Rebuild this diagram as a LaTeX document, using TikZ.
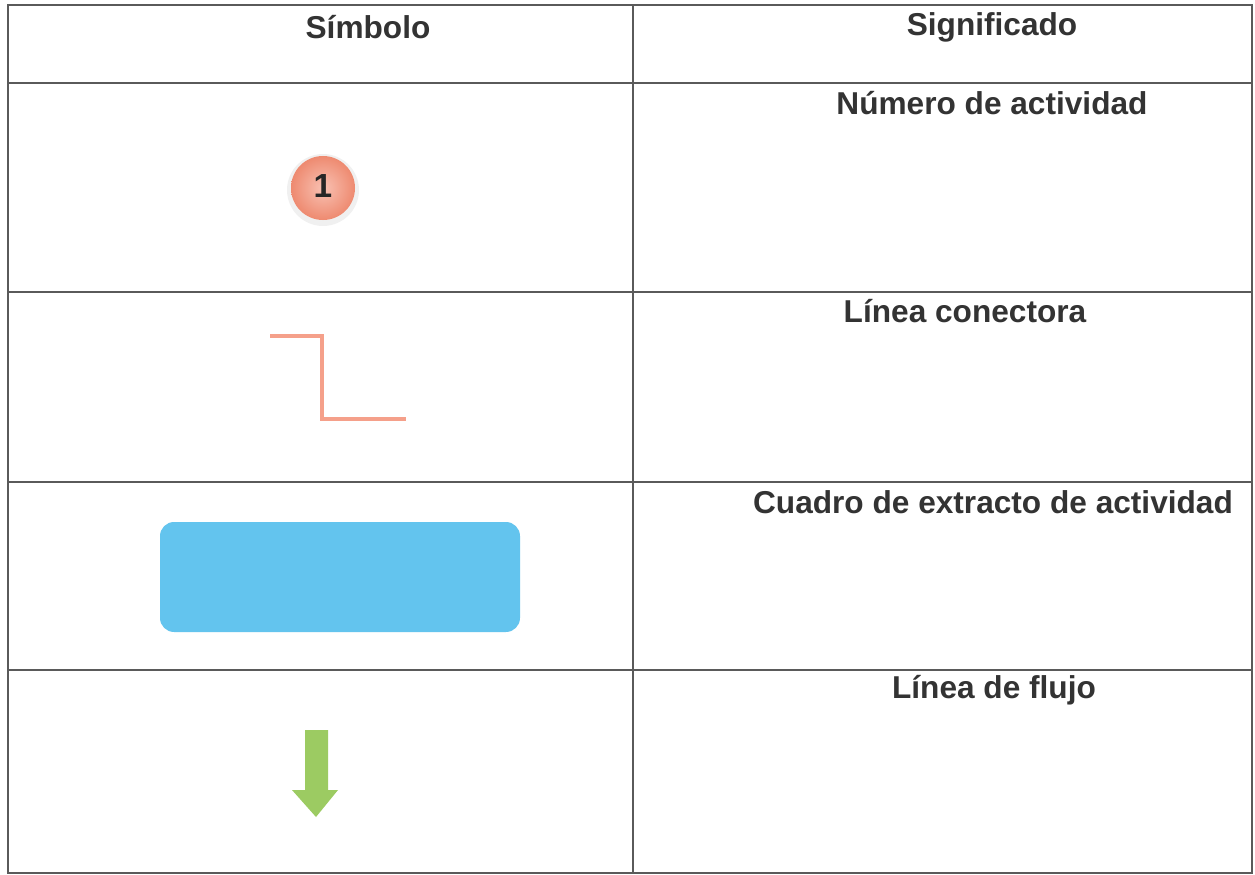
\documentclass[tikz,border=0pt]{standalone}
\usepackage{fontspec}
\setmainfont{Liberation Sans}
\usepackage{tikz}
\usetikzlibrary{shadows}
\definecolor{gridgray}{HTML}{5A5A5A}
\definecolor{salmon}{HTML}{F5A08A}
\definecolor{salmondark}{HTML}{EE8A70}
\definecolor{skyblue}{HTML}{63C4EE}
\definecolor{leafgreen}{HTML}{9CCB62}
\definecolor{textgray}{HTML}{333333}
\tikzset{
  heading/.style={font=\fontsize{18}{22}\selectfont\bfseries, text=textgray, inner sep=0pt},
  gridline/.style={line width=1pt, color=gridgray},
}
\begin{document}
\begin{tikzpicture}[x=0.02cm, y=-0.02cm]
			%%%%% FRAME %%%%%
			\useasboundingbox[fill=white] (0, 0) rectangle (1255, 875);
			
			\draw[gridline] (8, 5) rectangle (1252, 873);
			\draw[gridline] (633, 5) -- (633, 873);
			\draw[gridline] (8, 83) -- (1252, 83);
			\draw[gridline] (8, 292) -- (1252, 292);
			\draw[gridline] (8, 482) -- (1252, 482);
			\draw[gridline] (8, 670) -- (1252, 670);
			
			%%%%% HEADINGS %%%%%
			\node[heading] (simbolo) at (368, 27) {Símbolo};
			\node[heading] (significado) at (992, 27) {Significado};
			\node[heading] (numero) at (992, 103) {Número de actividad};
			\node[heading] (linea) at (965, 311) {Línea conectora};
			\node[heading] (cuadro) at (993, 502) {Cuadro de extracto de actividad};
			\node[heading] (flujo) at (994, 690) {Línea de flujo};
			
			%%%%% SYMBOLS %%%%%
			\fill[black, opacity=0.06] (323, 190) circle (36);
			\shade[inner color=salmon!65!white, outer color=salmondark] (323, 188) circle (32);
			\node[font=\fontsize{19}{22}\selectfont\bfseries, text=black!85] (uno) at (323, 186) {1};
			
			\draw[line width=2pt, color=salmon] (270, 336) -- (322, 336) -- (322, 419) -- (406, 419);
			
			\fill[skyblue, rounded corners=8pt] (160, 522) rectangle (520, 632);
			
			\fill[leafgreen] (305, 730) -- (328, 730) -- (328, 790) -- (338, 790)
			  -- (316, 817) -- (292, 790) -- (305, 790) -- cycle;
			
			%%%%% END %%%%%
\end{tikzpicture}
\end{document}
